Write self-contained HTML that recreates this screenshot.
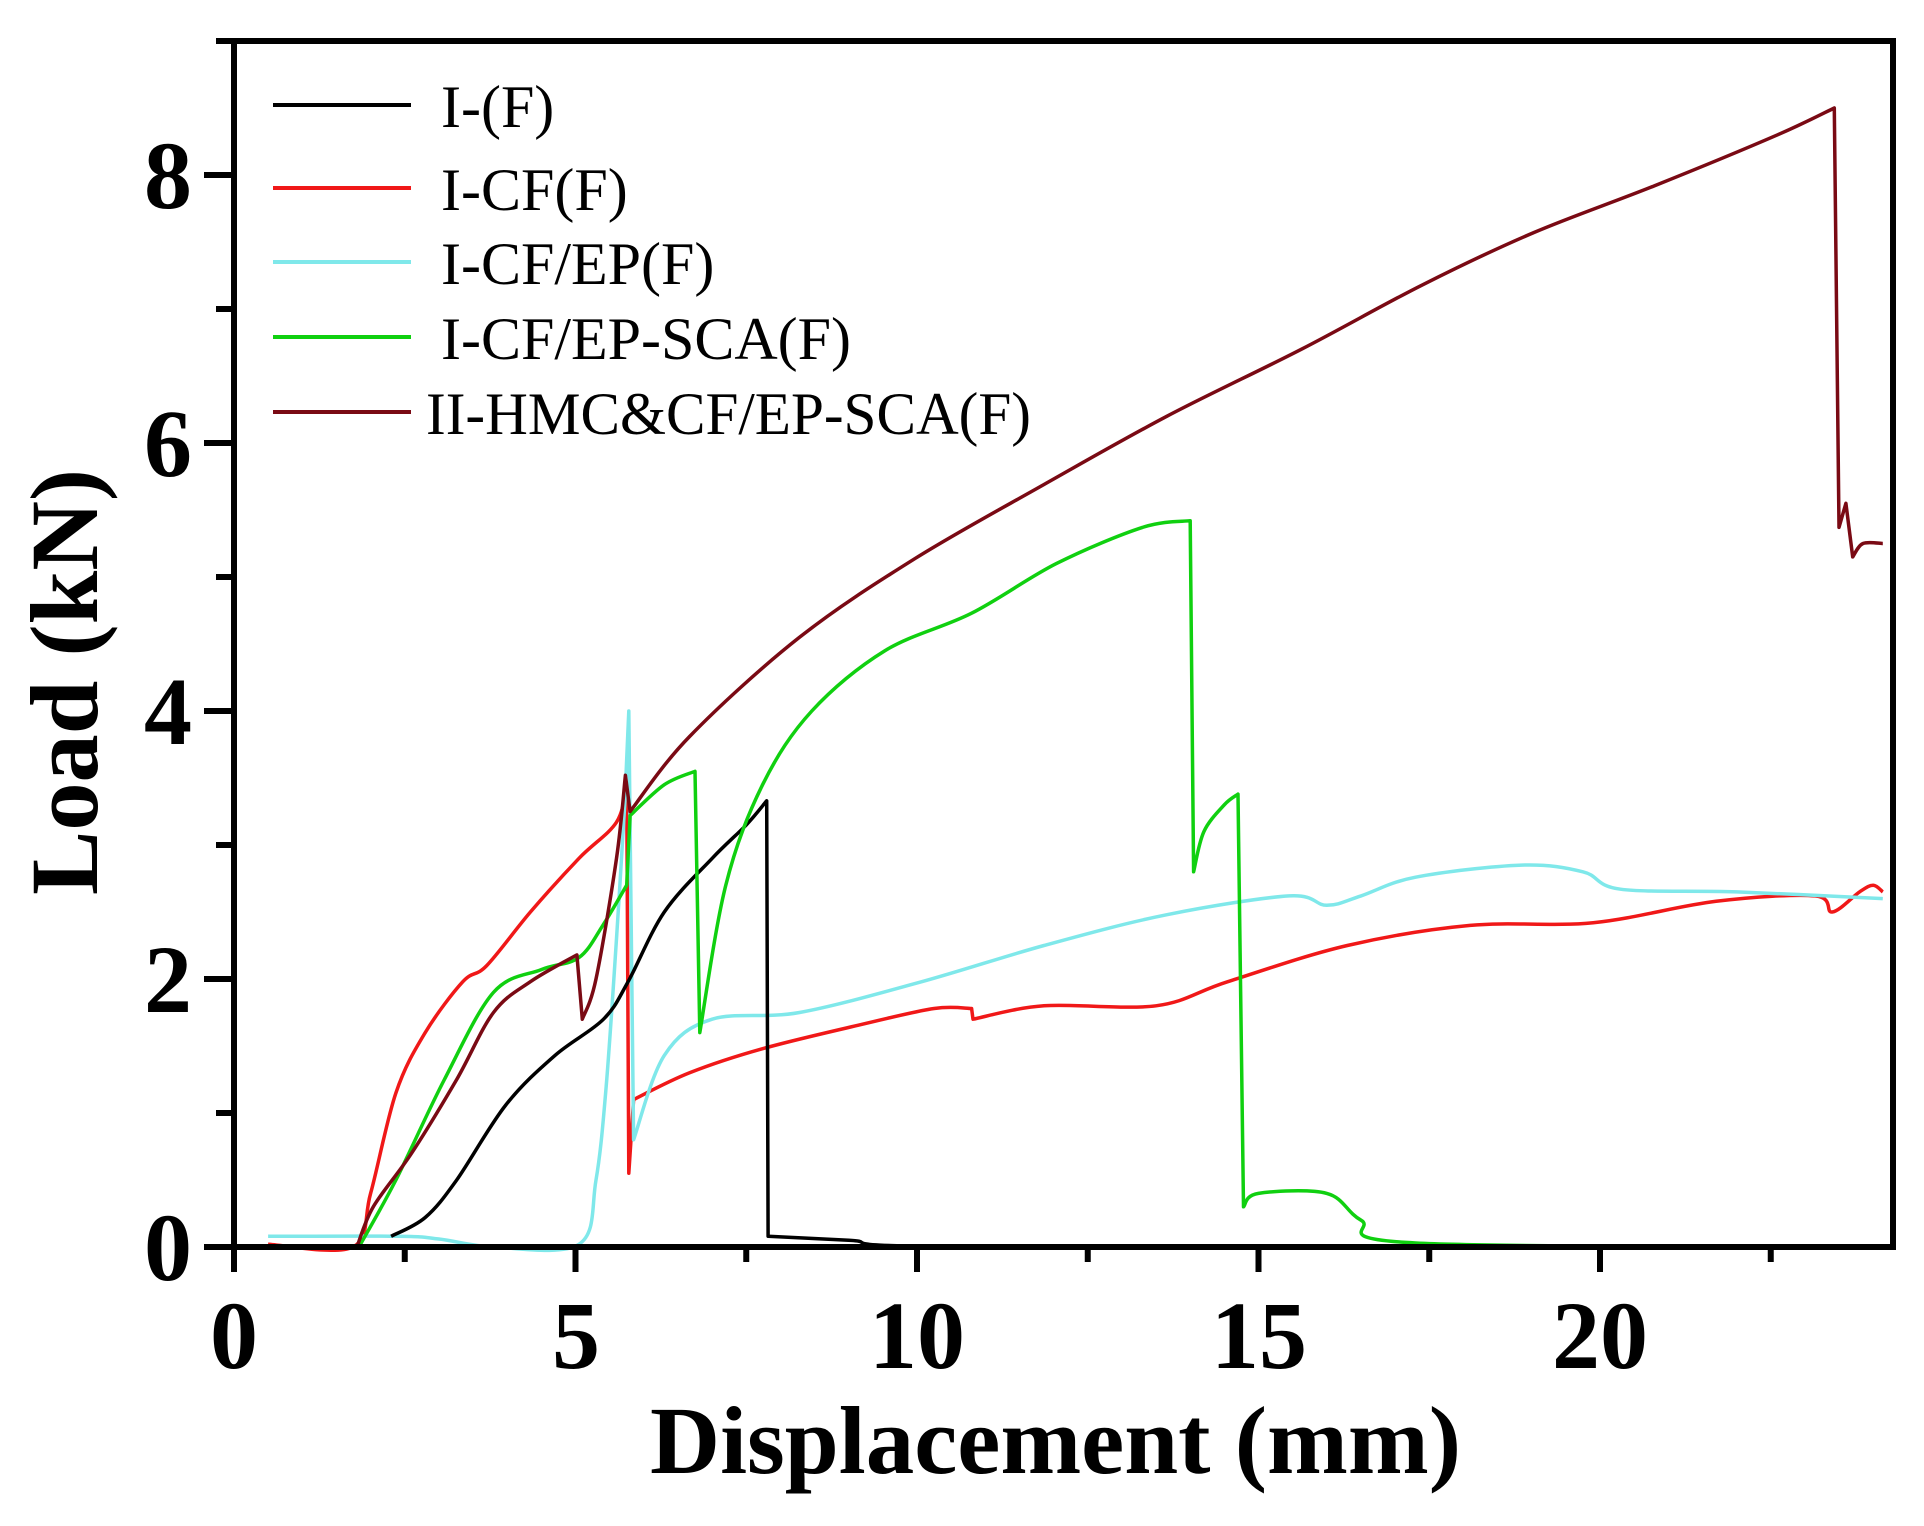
<!DOCTYPE html>
<html><head><meta charset="utf-8"><style>
html,body{margin:0;padding:0;background:#fff;}
svg{display:block;}
text{font-family:"Liberation Serif",serif;}
</style></head><body>
<svg id="s" width="1924" height="1526" viewBox="0 0 1924 1526" xmlns="http://www.w3.org/2000/svg">
<rect width="1924" height="1526" fill="#fff"/>
<g id="curves" fill="none" stroke-width="3.5" stroke-linejoin="round"></g>
<rect x="234" y="41" width="1659" height="1206" fill="none" stroke="#000" stroke-width="6"/>
<g id="ticks" stroke="#000" stroke-width="6"></g>
<g font-weight="bold" font-size="96" text-anchor="end">
<text x="192" y="1280">0</text>
<text x="192" y="1012">2</text>
<text x="192" y="744">4</text>
<text x="192" y="476">6</text>
<text x="192" y="208">8</text>
</g>
<g font-weight="bold" font-size="96" text-anchor="middle">
<text x="234" y="1368">0</text>
<text x="576" y="1368">5</text>
<text x="917" y="1368">10</text>
<text x="1259" y="1368">15</text>
<text x="1600" y="1368">20</text>
</g>
<text x="650" y="1473" font-weight="bold" font-size="96" textLength="811" lengthAdjust="spacingAndGlyphs">Displacement (mm)</text>
<text transform="translate(97,895) rotate(-90)" font-weight="bold" font-size="96" textLength="426" lengthAdjust="spacingAndGlyphs">Load (kN)</text>
<g stroke-width="4">
<line x1="273" y1="105" x2="411" y2="105" stroke="#000"/>
<line x1="273" y1="188" x2="411" y2="188" stroke="#f01818"/>
<line x1="273" y1="262" x2="411" y2="262" stroke="#7fe8ea"/>
<line x1="273" y1="337" x2="411" y2="337" stroke="#10d010"/>
<line x1="273" y1="412" x2="411" y2="412" stroke="#7a0a14"/>
</g>
<g font-size="60">
<text x="441" y="127">I-(F)</text>
<text x="441" y="210">I-CF(F)</text>
<text x="441" y="284">I-CF/EP(F)</text>
<text x="441" y="359" textLength="410" lengthAdjust="spacingAndGlyphs">I-CF/EP-SCA(F)</text>
<text x="426" y="434" textLength="605" lengthAdjust="spacingAndGlyphs">II-HMC&amp;CF/EP-SCA(F)</text>
</g>
</svg>
<script>
var X=function(x){return 234+68.3*x},Y=function(y){return 1247-134*y};
var ns="http://www.w3.org/2000/svg";
var tk=document.getElementById("ticks");
function ln(a,b,c,d){var l=document.createElementNS(ns,"line");l.setAttribute("x1",a);l.setAttribute("y1",b);l.setAttribute("x2",c);l.setAttribute("y2",d);tk.appendChild(l);}
for(var i=0;i<=24;i+=2.5){var x=X(i);ln(x,1247,x,i%5==0?1272:1262);}
for(var j=0;j<=9;j++){var y=Y(j);ln(234,y,j%2==0?204:216,y);}
var S=[
["#f01818",[[0.5,0.02],[1.74,0],[2.0,0.4],[2.37,1.15],[2.8,1.6],[3.35,1.98],[3.7,2.1],[4.34,2.5],[5.05,2.9],[5.6,3.17],[5.75,3.45],[5.78,0.55],[5.85,1.1],[6.67,1.3],[7.74,1.48],[9.18,1.66],[10.25,1.78],[10.8,1.78],[10.82,1.7],[11.86,1.8],[13.5,1.8],[14.55,1.98],[16.3,2.25],[18.1,2.4],[19.9,2.42],[21.7,2.58],[23.15,2.62],[23.4,2.5],[23.8,2.65],[24.0,2.7],[24.14,2.65]]],
["#7fe8ea",[[0.5,0.08],[2.4,0.08],[3.0,0.06],[3.8,0.0],[5.05,0.02],[5.3,0.5],[5.45,1.2],[5.6,2.3],[5.72,3.3],[5.78,4.0],[5.85,0.8],[6.3,1.43],[7.0,1.7],[8.28,1.75],[10.07,1.98],[11.86,2.25],[13.66,2.48],[15.45,2.62],[16.0,2.55],[16.5,2.62],[17.3,2.76],[18.85,2.85],[19.75,2.8],[20.3,2.67],[22,2.65],[24.14,2.6]]],
["#000000",[[2.3,0.08],[2.8,0.22],[3.26,0.5],[3.98,1.06],[4.7,1.43],[5.41,1.7],[5.77,1.98],[6.3,2.5],[7.0,2.9],[7.5,3.15],[7.8,3.33],[7.82,0.08],[9,0.05],[11,0],[24.14,0]]],
["#10d010",[[1.83,0],[2.37,0.5],[3.08,1.25],[3.8,1.9],[4.5,2.07],[5.05,2.16],[5.4,2.4],[5.75,2.7],[5.8,3.22],[6.3,3.45],[6.75,3.55],[6.82,1.6],[7.2,2.7],[7.74,3.45],[8.46,4.0],[9.53,4.45],[10.8,4.73],[12.04,5.1],[13.3,5.37],[14.0,5.42],[14.05,2.8],[14.2,3.1],[14.5,3.3],[14.7,3.38],[14.78,0.3],[15.0,0.4],[16.0,0.4],[16.5,0.2],[17.3,0.03],[24.14,0]]],
["#7a0a14",[[1.8,0],[2.04,0.3],[2.6,0.7],[3.26,1.25],[3.8,1.75],[4.34,1.98],[5.02,2.18],[5.1,1.7],[5.3,2.0],[5.6,2.9],[5.73,3.52],[5.8,3.25],[6.67,3.81],[8.28,4.55],[9.98,5.14],[11.86,5.69],[13.66,6.2],[15.63,6.7],[17.4,7.18],[19.03,7.57],[20.8,7.92],[22.6,8.3],[23.43,8.5],[23.5,5.37],[23.6,5.55],[23.7,5.15],[23.85,5.25],[24.14,5.25]]]
];
var g=document.getElementById("curves");
function smooth(pts){
  // pts in pixel coords; split into runs where dx>=7px
  var d="M"+pts[0][0].toFixed(1)+","+pts[0][1].toFixed(1);
  for(var i=0;i<pts.length-1;i++){
    var p1=pts[i],p2=pts[i+1];
    var steep=function(a,b){return Math.abs(b[0]-a[0])<7;};
    if(steep(p1,p2)){d+="L"+p2[0].toFixed(1)+","+p2[1].toFixed(1);continue;}
    var p0=(i>0&&!steep(pts[i-1],p1))?pts[i-1]:p1;
    var p3=(i+2<pts.length&&!steep(p2,pts[i+2]))?pts[i+2]:p2;
    var c1=[p1[0]+(p2[0]-p0[0])/6,p1[1]+(p2[1]-p0[1])/6];
    var c2=[p2[0]-(p3[0]-p1[0])/6,p2[1]-(p3[1]-p1[1])/6];
    d+="C"+c1[0].toFixed(1)+","+c1[1].toFixed(1)+" "+c2[0].toFixed(1)+","+c2[1].toFixed(1)+" "+p2[0].toFixed(1)+","+p2[1].toFixed(1);
  }
  return d;
}
S.forEach(function(s){var pts=s[1].map(function(p){return [X(p[0]),Y(p[1])];});var p=document.createElementNS(ns,"path");p.setAttribute("d",smooth(pts));p.setAttribute("stroke",s[0]);g.appendChild(p);});
</script>
</body></html>
